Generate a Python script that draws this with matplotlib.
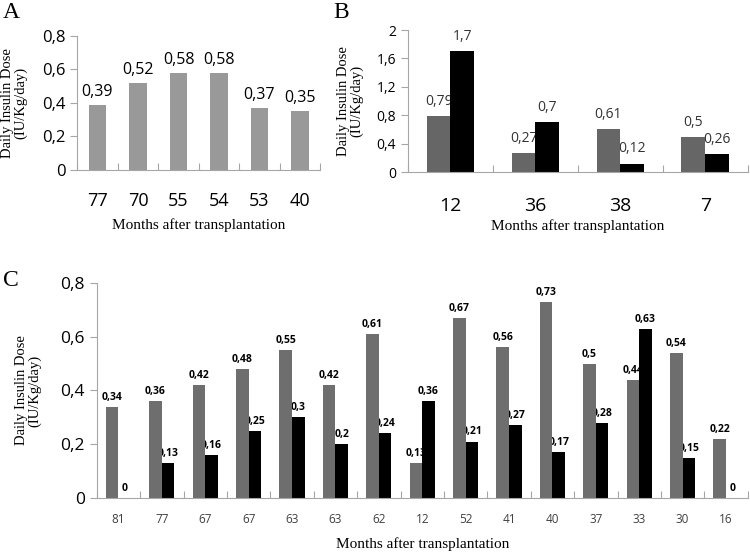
import matplotlib
matplotlib.use("Agg")
import matplotlib.pyplot as plt
import numpy as np

# panel A
a_months = ["77", "70", "55", "54", "53", "40"]
a_dose = [0.39, 0.52, 0.58, 0.58, 0.37, 0.35]

# panel B
b_months = ["12", "36", "38", "7"]
b_gray = [0.79, 0.27, 0.61, 0.5]
b_black = [1.7, 0.7, 0.12, 0.26]

# panel C
c_months = ["81", "77", "67", "67", "63", "63", "62", "12", "52", "41", "40", "37", "33", "30", "16"]
c_gray = [0.34, 0.36, 0.42, 0.48, 0.55, 0.42, 0.61, 0.13, 0.67, 0.56, 0.73, 0.5, 0.44, 0.54, 0.22]
c_black = [0, 0.13, 0.16, 0.25, 0.3, 0.2, 0.24, 0.36, 0.21, 0.27, 0.17, 0.28, 0.63, 0.15, 0]

sans = "Open Sans"
serif = "Liberation Serif"
axis_col = "#a6a6a6"


def fmt(v):
    return ("%g" % v).replace(".", ",")


def style(ax, n, ymax, yticks):
    ax.set_xlim(-0.5, n - 0.5)
    ax.set_ylim(0, ymax)
    for s in ["top", "right"]:
        ax.spines[s].set_visible(False)
    for s in ["left", "bottom"]:
        ax.spines[s].set_color(axis_col)
    ax.set_yticks(yticks)
    ax.set_yticklabels([fmt(t) for t in yticks])
    ax.set_xticks(np.arange(n + 1) - 0.5)
    ax.set_xticklabels([])
    ax.set_xticks(np.arange(n), minor=True)
    ax.tick_params(axis="x", which="minor", length=0)
    ax.tick_params(axis="x", which="major", length=5, color=axis_col, direction="in")
    ax.tick_params(axis="y", length=5, color=axis_col, direction="out")
    ax.set_ylabel("Daily Insulin Dose\n(IU/Kg/day)", fontfamily=serif, fontsize=10.5,
                  linespacing=1.0)


fig = plt.figure(figsize=(7.5, 5.57), dpi=100)

# ---- A
axA = fig.add_axes([0.103, 0.695, 0.324, 0.2406])
x = np.arange(len(a_months))
axA.bar(x, a_dose, width=0.42, color="#999999")
style(axA, len(a_months), 0.8, [0, 0.2, 0.4, 0.6, 0.8])
axA.set_xticks(x, labels=a_months, minor=True)
axA.tick_params(axis="x", which="minor", labelsize=13, pad=16)
axA.tick_params(axis="y", labelsize=12)
for lab in axA.get_xticklabels(minor=True) + axA.get_yticklabels():
    lab.set_fontfamily(sans)
for xi, v in zip(x, a_dose):
    axA.text(xi, v + 0.03, fmt(v), ha="center", va="bottom", fontsize=11.5, fontfamily=sans)
axA.set_xlabel("Months after transplantation", fontfamily=serif, fontsize=11, labelpad=6)
axA.yaxis.set_label_coords(-0.205, 0.5)
fig.text(0.004, 0.997, "A", fontfamily=serif, fontsize=17, va="top")

# ---- B
axB = fig.add_axes([0.544, 0.691, 0.453, 0.255])
x = np.arange(len(b_months))
w = 0.28
axB.bar(x - w / 2, b_gray, width=w, color="#666666", zorder=2)
axB.bar(x + w / 2, b_black, width=w, color="black", zorder=2)
style(axB, len(b_months), 2, [0, 0.4, 0.8, 1.2, 1.6, 2])
axB.set_xticks(x, labels=b_months, minor=True)
axB.tick_params(axis="x", which="minor", labelsize=14, pad=18)
axB.tick_params(axis="y", labelsize=10)
for lab in axB.get_xticklabels(minor=True) + axB.get_yticklabels():
    lab.set_fontfamily(sans)
for xi, v in zip(x, b_gray):
    axB.text(xi - w / 2, v + 0.1, fmt(v), ha="center", va="bottom", fontsize=10, fontfamily=sans, color="#333333", zorder=1)
for xi, v in zip(x, b_black):
    axB.text(xi + w / 2, v + 0.1, fmt(v), ha="center", va="bottom", fontsize=10, fontfamily=sans, color="#333333", zorder=1)
axB.set_xlabel("Months after transplantation", fontfamily=serif, fontsize=11, labelpad=3)
axB.yaxis.set_label_coords(-0.13, 0.5)
fig.text(0.444, 0.997, "B", fontfamily=serif, fontsize=17, va="top")

# ---- C
axC = fig.add_axes([0.129, 0.106, 0.868, 0.386])
x = np.arange(len(c_months))
w = 0.29
axC.bar(x - w / 2, c_gray, width=w, color="#6e6e6e", zorder=2)
axC.bar(x + w / 2, c_black, width=w, color="black", zorder=2)
style(axC, len(c_months), 0.8, [0, 0.2, 0.4, 0.6, 0.8])
axC.set_xticks(x, labels=c_months, minor=True)
axC.tick_params(axis="x", which="minor", labelsize=8.5, pad=11, labelcolor="#404040")
axC.tick_params(axis="y", labelsize=12.5)
for lab in axC.get_xticklabels(minor=True) + axC.get_yticklabels():
    lab.set_fontfamily(sans)
for xi, v in zip(x, c_gray):
    axC.text(xi - w / 2, v + 0.015, fmt(v), ha="center", va="bottom", fontsize=7.5, fontweight="bold", fontfamily=sans, zorder=1)
for xi, v in zip(x, c_black):
    axC.text(xi + w / 2, v + 0.015, fmt(v), ha="center", va="bottom", fontsize=7.5, fontweight="bold", fontfamily=sans, zorder=1)
axC.set_xlabel("Months after transplantation", fontfamily=serif, fontsize=11, labelpad=8)
axC.yaxis.set_label_coords(-0.085, 0.5)
fig.text(0.004, 0.515, "C", fontfamily=serif, fontsize=17, va="top")

fig.savefig("out.png", dpi=100)
